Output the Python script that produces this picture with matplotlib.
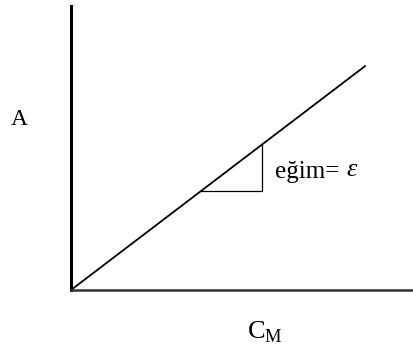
import matplotlib.pyplot as plt

# Beer-Lambert calibration line: absorbance vs molar concentration
conc = [0.0, 6.0]
absorb = [0.0, 5.1]
tri_x = [2.65, 3.9]          # run of the slope triangle
x_max, y_max = 7.0, 6.47

slope = (absorb[1] - absorb[0]) / (conc[1] - conc[0])

plt.rcParams['font.family'] = ['Liberation Serif', 'DejaVu Serif']
plt.rcParams['mathtext.fontset'] = 'custom'
plt.rcParams['mathtext.rm'] = 'Liberation Serif'

fig = plt.figure(figsize=(4.14, 3.51), dpi=100)
ax = fig.add_axes([71/414, 61/351, 343/414, 284/351])
ax.set_xlim(0, x_max)
ax.set_ylim(0, y_max)
for s in ('top', 'right'):
    ax.spines[s].set_visible(False)
ax.spines['left'].set_linewidth(2.2)
ax.spines['bottom'].set_linewidth(1.8)
ax.spines['bottom'].set_color('#333333')
ax.set_xticks([])
ax.set_yticks([])

ax.plot(conc, absorb, color='black', lw=1.3, clip_on=False)

# slope triangle under the line
y0 = slope * tri_x[0]
y1 = slope * tri_x[1]
ax.plot([tri_x[0], tri_x[1], tri_x[1]], [y0, y0, y1], color='black', lw=0.9)
fig.text(275/414, 1 - 172/351, 'eğim=', fontsize=18, va='center', ha='left')
fig.text(346/414, 1 - 170/351, 'ε', fontsize=19, style='italic',
         va='center', ha='left')

fig.text(19/414, 1 - 119/351, 'A', fontsize=17, ha='center', va='center')
fig.text(265/414, 1 - 332/351, r'C$_\mathrm{M}$', fontsize=19,
         ha='center', va='center')

fig.savefig('out.png', dpi=100, facecolor='white')
